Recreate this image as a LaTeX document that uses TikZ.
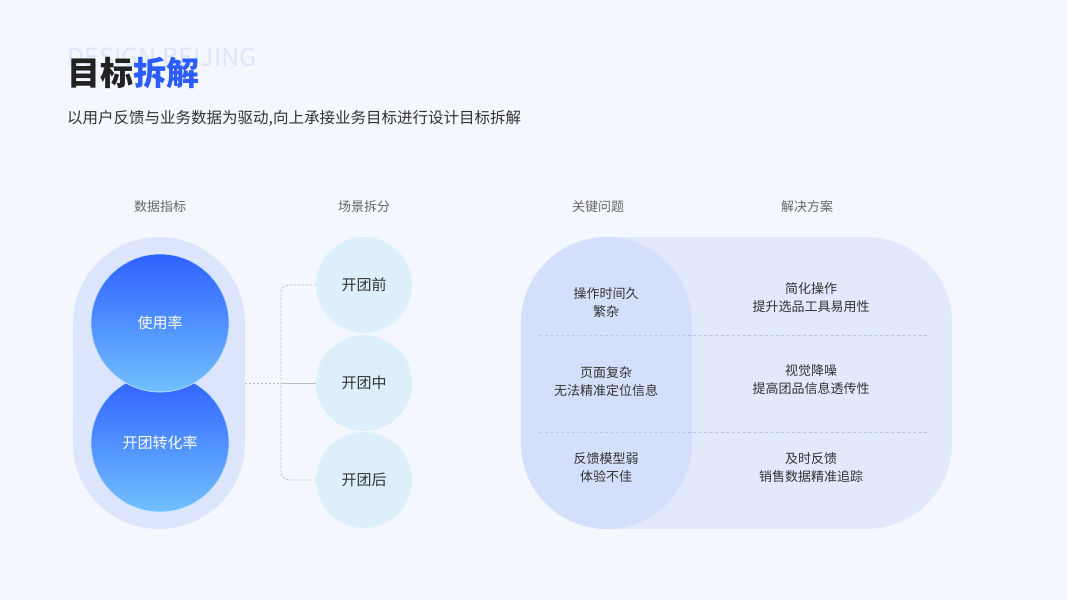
\documentclass[tikz,border=0pt]{standalone}
\usepackage{fontspec}
\setmainfont{Noto Sans CJK SC}
\usetikzlibrary{calc}
\definecolor{bg}{HTML}{F4F7FD}
\definecolor{capl}{HTML}{DCE5FB}
\definecolor{gtop}{HTML}{2D60FF}
\definecolor{gbot}{HTML}{72C0FF}
\definecolor{sce}{HTML}{DDEFFA}
\definecolor{bigc}{HTML}{E2E9FC}
\definecolor{innc}{HTML}{D4E0FB}
\definecolor{sep}{HTML}{B5C8F3}
\definecolor{txt}{HTML}{333333}
\definecolor{hdr}{HTML}{666666}
\definecolor{tblue}{HTML}{2B5CFF}
\definecolor{ghost}{HTML}{DCE5FA}
\definecolor{conn}{HTML}{BBBBBB}
\tikzset{
  metric/.style={circle, minimum size=138pt, inner sep=0pt, top color=gtop, bottom color=gbot, draw=white!60!gbot, line width=0.6pt, text=white, font=\fontsize{15}{18}\selectfont},
  scene/.style={circle, minimum size=96pt, inner sep=0pt, fill=sce, text=txt, font=\fontsize{15}{18}\selectfont},
  hdrtext/.style={text=hdr, font=\fontsize{13}{16}\selectfont},
  celltext/.style={text=txt, align=center, font=\fontsize{13}{18}\selectfont},
  dotline/.style={draw=conn, line width=0.8pt, dash pattern=on 2pt off 2pt},
  sepline/.style={draw=sep, line width=0.7pt, dash pattern=on 3pt off 2.5pt},
}
\begin{document}
\begin{tikzpicture}[x=1pt,y=-1pt]
\fill[bg] (0,0) rectangle (1067,600);
\useasboundingbox (0,0) rectangle (1067,600);
% title
\node[anchor=west, text=ghost, font=\fontsize{25}{28}\selectfont, inner sep=0pt] (ghost) at (67,57) {DESIGN BEIJING};
\node[anchor=west, inner sep=0pt, font=\fontsize{33}{38}\selectfont\bfseries] (title) at (67,73) {\textcolor[HTML]{222222}{目标}\textcolor{tblue}{拆解}};
\node[anchor=west, inner sep=0pt, text=txt, font=\fontsize{15.5}{18}\selectfont] (sub) at (67,118) {以用户反馈与业务数据为驱动,向上承接业务目标进行设计目标拆解};
% headers
\node[hdrtext] (h1) at (160,207) {数据指标};
\node[hdrtext] (h2) at (364,207) {场景拆分};
\node[hdrtext] (h3) at (598,207) {关键问题};
\node[hdrtext] (h4) at (807,207) {解决方案};
% left capsule
\node[draw=none, fill=capl, rounded corners=86pt, minimum width=172pt, minimum height=292pt, inner sep=0pt] (cap) at (159,383) {};
\node[metric] (m2) at (160,443) {开团转化率};
\node[metric] (m1) at (160,323) {使用率};
% scenes
\node[scene] (pre) at (364,285) {开团前};
\node[scene] (mid) at (364,383) {开团中};
\node[scene] (post) at (364,480) {开团后};
\coordinate (j) at (281,383);
\draw[dotline, rounded corners=8pt] (pre.west) -| (j) |- (post.west);
\draw[dotline] (cap.east) -- (j);
\draw[draw=conn, line width=0.8pt] (j) -- (mid.west);
% right capsule
\node[fill=bigc, rounded corners=86pt, minimum width=431pt, minimum height=292pt, inner sep=0pt] (big) at (736.5,383) {};
\node[fill=innc, rounded corners=86pt, minimum width=171pt, minimum height=292pt, inner sep=0pt] (inn) at (606.5,383) {};
\coordinate (s1a) at (539,335);
\coordinate (s1b) at (930,335);
\coordinate (s2a) at (539,432);
\coordinate (s2b) at (930,432);
\draw[sepline] (s1a) -- (s1b);
\draw[sepline] (s2a) -- (s2b);
% cells
\node[celltext] (p1) at (606,303) {操作时间久\\繁杂};
\node[celltext] (p2) at (606,382) {页面复杂\\无法精准定位信息};
\node[celltext] (p3) at (606,468) {反馈模型弱\\体验不佳};
\node[celltext] (r1) at (811,298) {简化操作\\提升选品工具易用性};
\node[celltext] (r2) at (811,380) {视觉降噪\\提高团品信息透传性};
\node[celltext] (r3) at (811,468) {及时反馈\\销售数据精准追踪};
\end{tikzpicture}
\end{document}
